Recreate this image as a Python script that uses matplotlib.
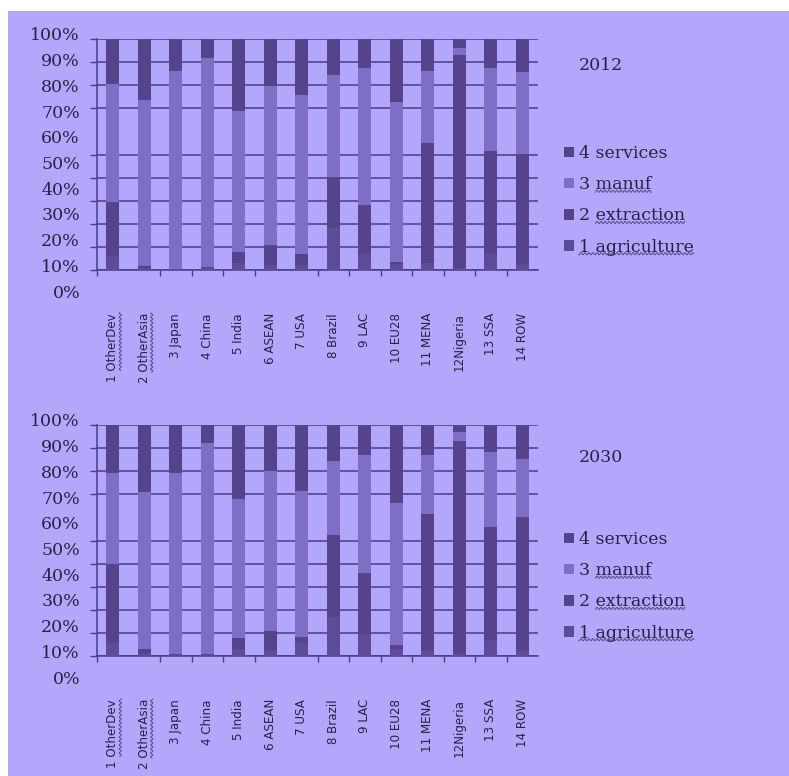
import matplotlib
matplotlib.use("Agg")
import matplotlib.pyplot as plt
from matplotlib.patches import Rectangle, Patch
from matplotlib.lines import Line2D
from matplotlib.transforms import IdentityTransform
import numpy as np

# Regions
categories = ["1 OtherDev", "2 OtherAsia", "3 Japan", "4 China", "5 India",
              "6 ASEAN", "7 USA", "8 Brazil", "9 LAC", "10 EU28",
              "11 MENA", "12Nigeria", "13 SSA", "14 ROW"]

series_names = ["1 agriculture", "2 extraction", "3 manuf", "4 services"]

# Sector shares (%) in 2012
agri_2012 = [6.0, 1.0, 0.3, 1.0, 3.0, 2.0, 2.0, 18.0, 7.0, 2.5, 3.0, 1.0, 7.0, 2.5]
extr_2012 = [23.3, 0.8, 0.2, 0.4, 4.6, 8.8, 5.1, 22.4, 21.0, 1.1, 51.8, 92.1, 44.5, 47.7]
manuf_2012 = [51.1, 71.8, 85.6, 90.5, 61.2, 69.0, 68.7, 44.0, 59.3, 69.3, 31.3, 3.1, 35.8, 35.4]
serv_2012 = [19.6, 26.4, 13.9, 8.1, 31.2, 20.2, 24.2, 15.6, 12.7, 27.1, 13.9, 3.8, 12.7, 14.4]

# Sector shares (%) in 2030
agri_2030 = [5.5, 1.5, 0.5, 0.5, 3.0, 2.0, 5.5, 17.0, 9.0, 3.0, 2.0, 1.0, 7.0, 2.0]
extr_2030 = [34.3, 1.4, 0.5, 0.2, 4.9, 9.0, 2.9, 35.4, 26.8, 1.6, 59.3, 92.2, 48.7, 58.3]
manuf_2030 = [39.3, 68.2, 78.1, 91.4, 60.1, 69.2, 63.2, 32.2, 51.2, 61.5, 25.7, 3.6, 32.8, 24.8]
serv_2030 = [20.9, 28.9, 20.9, 7.9, 32.0, 19.8, 28.4, 15.4, 13.0, 33.9, 13.0, 3.2, 11.5, 14.9]

y_labels = ["100%", "90%", "80%", "70%", "60%", "50%", "40%", "30%", "20%", "10%", "0%"]
grid_values = [0, 10, 20, 30, 40, 50, 70, 80, 90, 100]

# words carrying a wavy proofing underline: label -> characters skipped before the line
wavy_legend = {"3 manuf": 2, "2 extraction": 2, "1 agriculture": 0}
wavy_ticks = {"1 OtherDev": 2, "2 OtherAsia": 2}

BG = "#b4a6fa"
LINE = "#4a3c86"
TEXT = "#2a2048"
WAVE = "#3c3470"
colors = {
    "1 agriculture": "#5c4c9a",
    "2 extraction": "#54448c",
    "3 manuf": "#7e6ec6",
    "4 services": "#54448c",
}

W, H = 789, 776
fig = plt.figure(figsize=(W / 100, H / 100), dpi=100, facecolor="white")
fig.patches.append(Rectangle((8 / W, 0), 1, 1 - 11 / H, transform=fig.transFigure,
                             facecolor=BG, edgecolor="none", zorder=-10))

legends = []
axes = []


def panel(top_px, year, series, year_offset):
    ax = fig.add_axes([97 / W, 1 - (top_px + 231) / H, 441 / W, 231 / H])
    ax.set_facecolor("none")
    x = np.arange(len(categories))
    bottom = np.zeros(len(categories))
    for name, vals in zip(series_names, series):
        vals = np.asarray(vals, dtype=float)
        ax.bar(x, vals, width=0.41, bottom=bottom, color=colors[name],
               edgecolor="none", zorder=3)
        bottom += vals
    ax.set_xlim(-0.5, len(categories) - 0.5)
    ax.set_ylim(0, 100)

    # horizontal gridlines
    ax.set_yticks(grid_values)
    ax.set_yticklabels([])
    ax.yaxis.grid(True, color=LINE, linewidth=1.1, zorder=1)
    ax.tick_params(axis="y", length=5, width=1, color=LINE, direction="out")

    # category labels at centres, tick marks at boundaries
    ax.set_xticks(x)
    ax.set_xticklabels(categories, rotation=90, fontsize=8.6,
                       family="DejaVu Sans", color=TEXT)
    ax.tick_params(axis="x", which="major", length=0, pad=31)
    bounds = [b - 0.5 for b in range(len(categories) + 1) if b not in (1, 6, 14)]
    ax.set_xticks(bounds, minor=True)
    ax.tick_params(axis="x", which="minor", length=4, width=1, color=LINE,
                   direction="out")

    for s in ("top", "right"):
        ax.spines[s].set_visible(False)
    for s in ("left", "bottom"):
        ax.spines[s].set_color(LINE)
        ax.spines[s].set_linewidth(1.1)

    # percentage labels down the left side
    for k, lab in enumerate(y_labels):
        ypix = -3 + 25.7 * k
        ax.text(-17 / 441, 1 - ypix / 231, lab, transform=ax.transAxes,
                ha="right", va="center", fontsize=12.5, family="DejaVu Serif",
                color=TEXT)

    # year caption
    ax.text(482 / 441, 1 - year_offset / 231, year, transform=ax.transAxes,
            ha="left", va="center", fontsize=12.5, family="DejaVu Serif",
            color=TEXT)

    handles = [Patch(facecolor=colors[n], edgecolor="none")
               for n in reversed(series_names)]
    leg = ax.legend(handles, list(reversed(series_names)), loc="upper left",
                    bbox_to_anchor=(467 / 441, 1 - 106 / 231), frameon=False,
                    prop={"family": "DejaVu Serif", "size": 12.5},
                    labelcolor=TEXT, handlelength=0.55, handleheight=0.55,
                    handletextpad=0.3, labelspacing=0.82, borderpad=0,
                    borderaxespad=0)
    legends.append(leg)
    axes.append(ax)
    return ax


panel(39, "2012", [agri_2012, extr_2012, manuf_2012, serv_2012], 26)
panel(425, "2030", [agri_2030, extr_2030, manuf_2030, serv_2030], 32)

fig.canvas.draw()
renderer = fig.canvas.get_renderer()


def prefix_width(txt, n):
    if not n:
        return 0.0
    probe = fig.text(0, 0, txt.get_text()[:n], fontproperties=txt.get_fontproperties())
    w = probe.get_window_extent(renderer).width
    probe.remove()
    return w


def wave(start, stop, base):
    s = np.arange(start, stop + 0.5, 0.5)
    return s, base + 1.1 * np.sin(s * 2 * np.pi / 4.0)


# wavy underline beneath legend words
for leg in legends:
    for txt in leg.get_texts():
        label = txt.get_text()
        if label not in wavy_legend:
            continue
        bb = txt.get_window_extent(renderer)
        x0 = bb.x0 + prefix_width(txt, wavy_legend[label])
        xs, ys = wave(x0, bb.x1, bb.y0 + 2.0)
        fig.add_artist(Line2D(xs, ys, transform=IdentityTransform(),
                              color=WAVE, linewidth=0.7, alpha=0.8))

# wavy underline beside the rotated category labels
for ax in axes:
    for txt in ax.get_xticklabels():
        label = txt.get_text()
        if label not in wavy_ticks:
            continue
        bb = txt.get_window_extent(renderer)
        y0 = bb.y0 + prefix_width(txt, wavy_ticks[label])
        ys, xs = wave(y0, bb.y1, bb.x1 + 1.0)
        fig.add_artist(Line2D(xs, ys, transform=IdentityTransform(),
                              color=WAVE, linewidth=0.7, alpha=0.8))

fig.savefig("out.png", dpi=100, facecolor="white")
